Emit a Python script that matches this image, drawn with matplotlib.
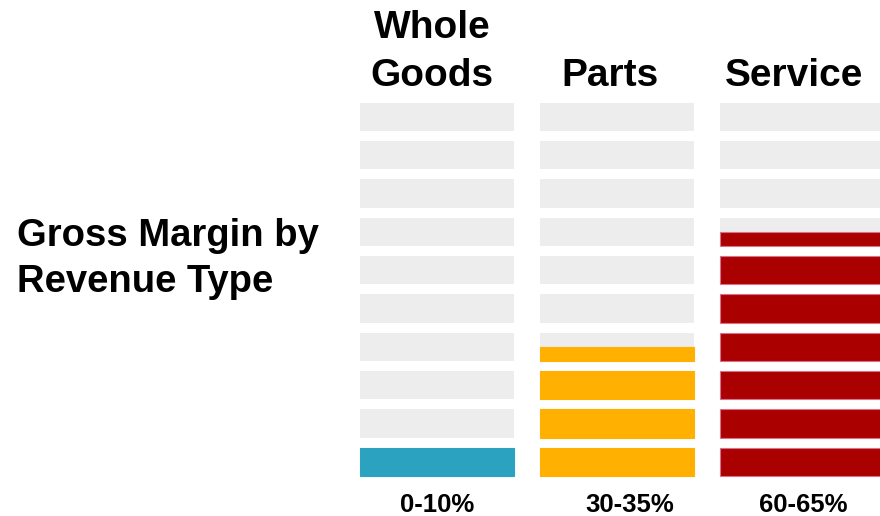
import matplotlib
matplotlib.use("Agg")
import matplotlib.pyplot as plt
import matplotlib.transforms as mtransforms
import numpy as np

plt.rcParams['font.family'] = ['Liberation Sans', 'DejaVu Sans']

# gross margin per revenue type, in percent (each block = 10%)
categories = [["Whole", "Goods"], ["Parts"], ["Service"]]
margins = [10, 35, 65]
range_labels = ["0-10%", "30-35%", "60-65%"]
colors = ["#2CA2C1", "#FFB000", "#AA0000"]
edge_colors = ["#2CA2C1", "#FFB000", "#D9708C"]

N_BLOCKS = 10
BLOCK_H = 0.74
COL_W = [0.855, 0.855, 0.9]

W, H = 880, 516
fig = plt.figure(figsize=(W / 100, H / 100), dpi=100)
ax = fig.add_axes([350 / W, (H - 480) / H, 530 / W, 385 / H])
ax.set_xlim(-0.486, 2.458)
ax.set_ylim(-0.104, 9.94)
ax.axis("off")

xs = np.arange(len(margins))
lefts = xs - 0.43
for r in range(N_BLOCKS):
    # empty slot
    ax.bar(lefts, BLOCK_H, width=COL_W, bottom=r, align="edge",
           color="#EDEDED", linewidth=0)
    # filled part of the slot, from the bottom up
    frac = np.clip(np.array(margins) / 10.0 - r, 0, 1)
    for i in range(len(margins)):
        if frac[i] <= 0:
            continue
        ax.bar(lefts[i], frac[i] * BLOCK_H, width=COL_W[i], bottom=r,
               align="edge", color=colors[i], edgecolor=edge_colors[i],
               linewidth=0.8)

trans = mtransforms.blended_transform_factory(ax.transData, fig.transFigure)
head_dx = [-0.03, -0.04, -0.02]
foot_dx = [0.0, 0.07, 0.03]
for i, words in enumerate(categories):
    baselines = [38.5, 86] if len(words) == 2 else [86]
    for word, b in zip(words, baselines):
        ax.text(xs[i] + head_dx[i], 1 - b / H, word, transform=trans,
                ha="center", va="baseline", fontsize=28, fontweight="bold")
    ax.text(xs[i] + foot_dx[i], 1 - 511.5 / H, range_labels[i],
            transform=trans, ha="center", va="baseline", fontsize=18.5,
            fontweight="bold")

fig.text(17 / W, 1 - 246.5 / H, "Gross Margin by", ha="left", va="baseline",
         fontsize=27.5, fontweight="bold")
fig.text(17 / W, 1 - 291.5 / H, "Revenue Type", ha="left", va="baseline",
         fontsize=27.5, fontweight="bold")

fig.savefig("out.png", dpi=100, facecolor="white")
